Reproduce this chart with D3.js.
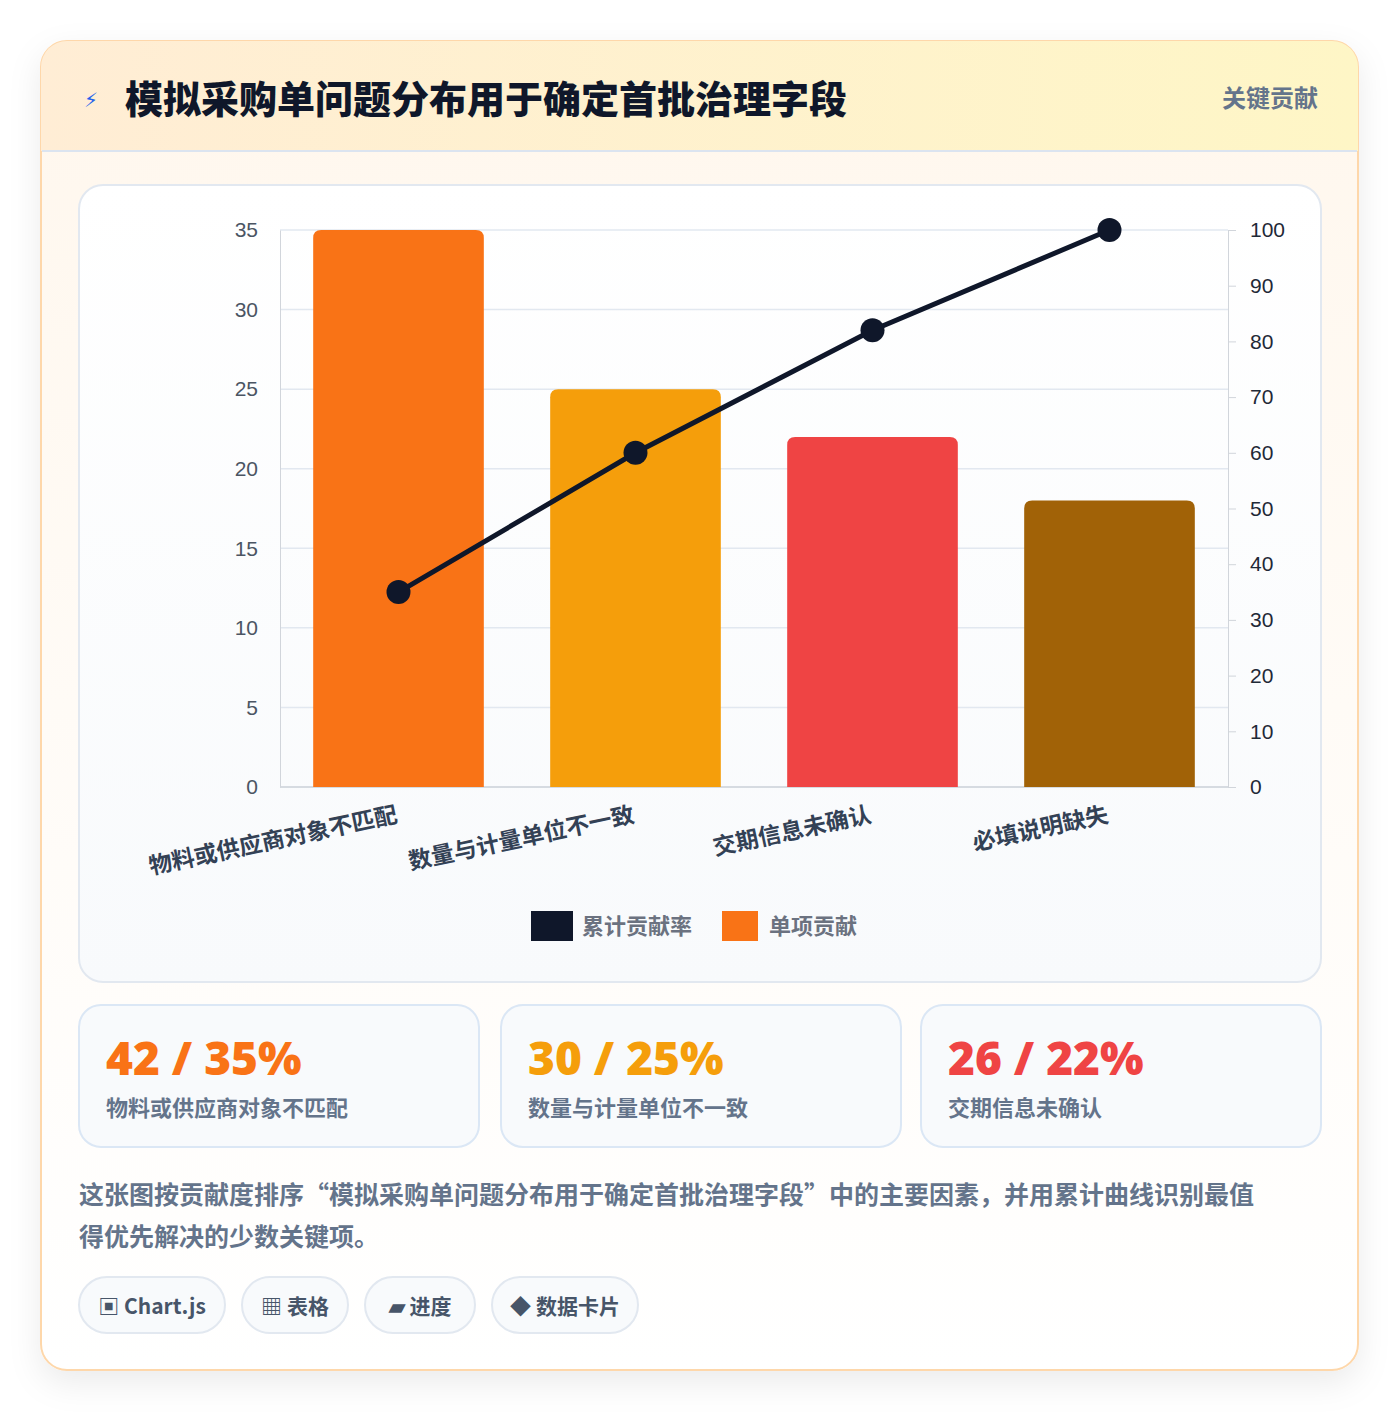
<!DOCTYPE html>
<html><head><meta charset="utf-8">
<script src="https://cdn.jsdelivr.net/npm/d3@7/dist/d3.min.js"></script>
<style>
body{margin:0;background:#fff;font-family:"Noto Sans CJK SC","Noto Sans",sans-serif;}
</style></head><body>
<svg id="c" width="1400" height="1412"></svg>
<script>
const categories=["物料或供应商对象不匹配","数量与计量单位不一致","交期信息未确认","必填说明缺失"];
const shares=[35,25,22,18];
const cumulative=[35,60,82,100];
const counts=[42,30,26,22];
const barColors=["#f97316","#f59e0b","#ef4444","#a16207"];
const leftTicks=[0,5,10,15,20,25,30,35];
const rightTicks=[0,10,20,30,40,50,60,70,80,90,100];
const chips=["▣ Chart.js","▦ 表格","▰ 进度","◆ 数据卡片"];
const title="模拟采购单问题分布用于确定首批治理字段";

const svg=d3.select("#c");
const defs=svg.append("defs");
const hg=defs.append("linearGradient").attr("id","hg");
hg.append("stop").attr("offset","0").attr("stop-color","#ffedd5");
hg.append("stop").attr("offset","1").attr("stop-color","#fef6c6");
const bg=defs.append("linearGradient").attr("id","bg").attr("x2",0).attr("y2",1);
bg.append("stop").attr("offset","0").attr("stop-color","#fff7ed");
bg.append("stop").attr("offset","1").attr("stop-color","#ffffff");
const pg=defs.append("linearGradient").attr("id","pg").attr("x2",0).attr("y2",1);
pg.append("stop").attr("offset","0").attr("stop-color","#ffffff");
pg.append("stop").attr("offset","1").attr("stop-color","#f8fafc");
const f=defs.append("filter").attr("id","sh").attr("x","-10%").attr("y","-10%").attr("width","120%").attr("height","120%");
f.append("feDropShadow").attr("dx",0).attr("dy",12).attr("stdDeviation",16).attr("flood-color","#000").attr("flood-opacity",0.08);

svg.append("rect").attr("x",41).attr("y",41).attr("width",1317).attr("height",1329).attr("rx",26)
 .attr("fill","url(#bg)").attr("stroke","#fed7aa").attr("stroke-width",2).attr("filter","url(#sh)");
const clip=defs.append("clipPath").attr("id","cc");
clip.append("rect").attr("x",41).attr("y",41).attr("width",1317).attr("height",1329).attr("rx",26);
svg.append("rect").attr("x",41).attr("y",41).attr("width",1317).attr("height",110).attr("fill","url(#hg)").attr("clip-path","url(#cc)");
svg.append("line").attr("x1",42).attr("x2",1357).attr("y1",151).attr("y2",151).attr("stroke","#dbe4f0").attr("stroke-width",2);
svg.append("text").attr("x",84).attr("y",107).attr("fill","#2563eb").attr("font-size",20).text("⚡").attr("font-family","DejaVu Sans");
svg.append("text").attr("x",125).attr("y",113).attr("font-size",38).attr("font-weight",900).attr("fill","#0f172a").text(title);
svg.append("text").attr("x",1318).attr("y",107).attr("text-anchor","end").attr("font-size",24).attr("font-weight",700).attr("fill","#64748b").text("关键贡献");

svg.append("rect").attr("x",79).attr("y",185).attr("width",1242).attr("height",797).attr("rx",24).attr("fill","url(#pg)").attr("stroke","#e2e8f0").attr("stroke-width",2);

const L=280,R=1228,T=230,B=787;
const x=d3.scaleBand().domain(categories).range([L,R]).paddingInner(0.28).paddingOuter(0.14);
const y=d3.scaleLinear().domain([0,35]).range([B,T]);
const y2=d3.scaleLinear().domain([0,100]).range([B,T]);
const g=svg.append("g");
g.selectAll(".gl").data(leftTicks).join("line").attr("x1",L).attr("x2",R).attr("y1",d=>y(d)).attr("y2",d=>y(d)).attr("stroke","#e2e8f0").attr("stroke-width",1.5);
const ax=g.append("g").attr("transform",`translate(${L},0)`).call(d3.axisLeft(y).tickValues(leftTicks).tickSize(0).tickPadding(22));
ax.select(".domain").attr("stroke","#d1d5db");
ax.selectAll("text").attr("font-size",21).attr("fill","#4b5563").attr("font-family","Liberation Sans, Arial");
const ar=g.append("g").attr("transform",`translate(${R},0)`).call(d3.axisRight(y2).tickValues(rightTicks).tickSize(8).tickPadding(14));
ar.select(".domain").attr("stroke","#d1d5db");
ar.selectAll("line").attr("stroke","#d1d5db");
ar.selectAll("text").attr("font-size",21).attr("fill","#1f2937").attr("font-family","Liberation Sans, Arial");
g.append("line").attr("x1",L).attr("x2",R).attr("y1",B).attr("y2",B).attr("stroke","#d1d5db").attr("stroke-width",1.5);

const r=8;
g.selectAll(".bar").data(shares).join("path").attr("fill",(d,i)=>barColors[i]).attr("d",(d,i)=>{
 const x0=x(categories[i]),w=x.bandwidth(),y0=y(d);
 return `M${x0},${B}V${y0+r}Q${x0},${y0} ${x0+r},${y0}H${x0+w-r}Q${x0+w},${y0} ${x0+w},${y0+r}V${B}Z`;});
const cx=i=>x(categories[i])+x.bandwidth()/2;
g.append("path").datum(cumulative).attr("fill","none").attr("stroke","#0f172a").attr("stroke-width",5)
 .attr("d",d3.line().x((d,i)=>cx(i)).y(d=>y2(d)));
g.selectAll(".pt").data(cumulative).join("circle").attr("cx",(d,i)=>cx(i)).attr("cy",d=>y2(d)).attr("r",12).attr("fill","#0f172a");

g.selectAll(".xl").data(categories).join("text").attr("text-anchor","end").attr("font-size",23).attr("font-weight",700).attr("fill","#334155")
 .attr("transform",(d,i)=>`translate(${cx(i)},${822}) rotate(-12)`).text(d=>d);

svg.append("rect").attr("x",531).attr("y",911).attr("width",42).attr("height",30).attr("fill","#0f172a");
svg.append("text").attr("x",582).attr("y",934).attr("font-size",22).attr("font-weight",700).attr("fill","#6b7280").text("累计贡献率");
svg.append("rect").attr("x",722).attr("y",911).attr("width",36).attr("height",30).attr("fill","#f97316");
svg.append("text").attr("x",769).attr("y",934).attr("font-size",22).attr("font-weight",700).attr("fill","#6b7280").text("单项贡献");

const kx=[79,501,921];
kx.forEach((k,i)=>{
 svg.append("rect").attr("x",k).attr("y",1005).attr("width",400).attr("height",142).attr("rx",22).attr("fill","#f8fafc").attr("stroke","#dbe7f5").attr("stroke-width",2);
 svg.append("text").attr("x",k+27).attr("y",1075).attr("font-size",46).attr("font-weight",900).attr("fill",barColors[i]).attr("font-family","Noto Sans, sans-serif").text(`${counts[i]} / ${shares[i]}%`);
 svg.append("text").attr("x",k+27).attr("y",1116).attr("font-size",22).attr("font-weight",700).attr("fill","#64748b").text(categories[i]);
});
svg.append("text").attr("x",79).attr("y",1204).attr("font-size",25).attr("font-weight",700).attr("fill","#64748b").text(`这张图按贡献度排序“${title}”中的主要因素，并用累计曲线识别最值`);
svg.append("text").attr("x",79).attr("y",1246).attr("font-size",25).attr("font-weight",700).attr("fill","#64748b").text("得优先解决的少数关键项。");

const cw=[146,106,110,146];let cxp=79;
chips.forEach((c,i)=>{
 svg.append("rect").attr("x",cxp).attr("y",1277).attr("width",cw[i]).attr("height",56).attr("rx",28).attr("fill","#f8fafc").attr("stroke","#e2e8f0").attr("stroke-width",2);
 svg.append("text").attr("x",cxp+cw[i]/2).attr("y",1314).attr("text-anchor","middle").attr("font-size",21).attr("font-weight",700).attr("fill","#475569").text(c);
 cxp+=cw[i]+17;
});
</script></body></html>
